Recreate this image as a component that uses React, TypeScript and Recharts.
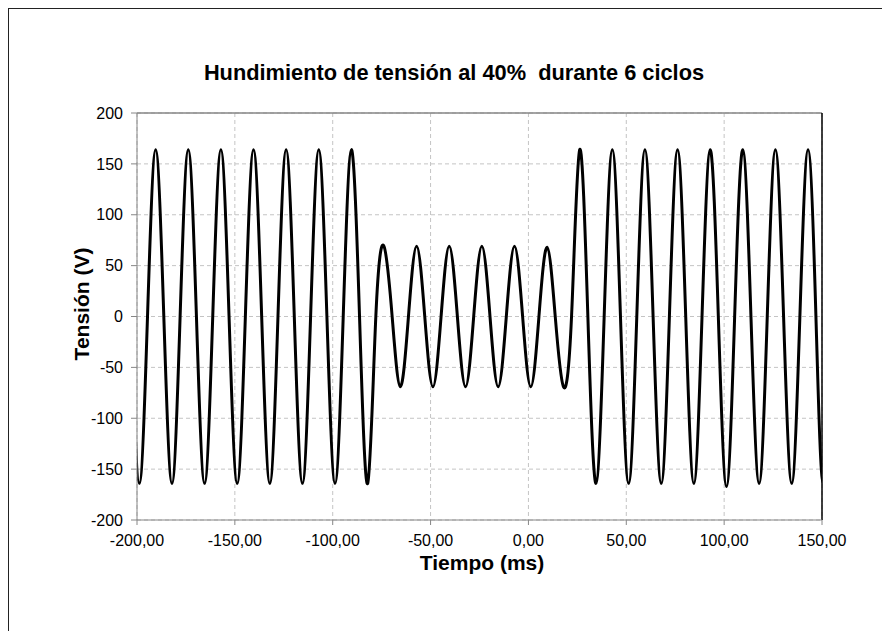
import { LineChart, Line, XAxis, YAxis, CartesianGrid, ReferenceLine } from 'recharts';

// Sample times (ms) at every quarter cycle of the 60 Hz wave
const timeMs = [
  -202.97,
  -198.8, -194.63, -190.47, -186.3, -182.13, -177.97, -173.8, -169.63,
  -165.47, -161.3, -157.13, -152.97, -148.8, -144.63, -140.47, -136.3,
  -132.13, -127.97, -123.8, -119.63, -115.47, -111.3, -107.13, -102.97,
  -98.8, -94.63, -90.47, -86.3, -82.13, -77.97, -73.8, -69.63,
  -65.47, -61.3, -57.13, -52.97, -48.8, -44.63, -40.47, -36.3,
  -32.13, -27.97, -23.8, -19.63, -15.47, -11.3, -7.13, -2.97,
  1.2, 5.37, 9.53, 13.7, 17.87, 22.03, 26.2, 30.37,
  34.53, 38.7, 42.87, 47.03, 51.2, 55.37, 59.53, 63.7,
  67.87, 72.03, 76.2, 80.37, 84.53, 88.7, 92.87, 97.03,
  101.2, 105.37, 109.53, 113.7, 117.87, 122.03, 126.2, 130.37,
  134.53, 138.7, 142.87, 146.9, 150.6, 154.77,
];

// Voltage read at those instants (zero crossings, troughs, peaks)
const voltage = [
  0,
  -164, 0, 164, 0, -164, 0, 164, 0,
  -164, 0, 164, 0, -164, 0, 164, 0,
  -164, 0, 164, 0, -164, 0, 164, 0,
  -164, 0, 164, 0, -164, 0, 69, 0,
  -69, 0, 69, 0, -69, 0, 69, 0,
  -69, 0, 69, 0, -69, 0, 69, 0,
  -69, 0, 68, 0, -69, 0, 164, 0,
  -164, 0, 164, 0, -164, 0, 164, 0,
  -164, 0, 164, 0, -164, 0, 164, 0,
  -167, 0, 164, 0, -164, 0, 164, 0,
  -164, 0, 164, 0, -164, 0,
];

const xTicks = [-200, -150, -100, -50, 0, 50, 100, 150];
const yTicks = [-200, -150, -100, -50, 0, 50, 100, 150, 200];

const data = timeMs.map((t, i) => ({ t, v: voltage[i] }));

const FONT = '"Liberation Sans", Arial, sans-serif';
const AXIS_GRAY = '#868686';

const fmtMs = (v: number) => v.toFixed(2).replace('.', ',');

export default function App() {
  return (
    <div
      style={{
        width: 882,
        height: 623,
        borderLeft: '1px solid #222',
        borderTop: '1px solid #222',
        boxSizing: 'border-box',
        position: 'relative',
        fontFamily: FONT,
        background: '#fff',
      }}
    >
      <LineChart
        width={881}
        height={622}
        data={data}
        margin={{ top: 104, right: 68, bottom: 71, left: 68 }}
      >
        <CartesianGrid stroke="#c4c4c4" strokeDasharray="4 3" />
        <XAxis
          dataKey="t"
          type="number"
          domain={[-200, 150]}
          ticks={xTicks}
          tickFormatter={fmtMs}
          height={40}
          tickSize={5}
          tickMargin={10}
          stroke={AXIS_GRAY}
          tick={{ fill: '#000', fontSize: 16, fontFamily: FONT }}
          allowDataOverflow
        />
        <YAxis
          type="number"
          domain={[-200, 200]}
          ticks={yTicks}
          width={60}
          tickSize={6}
          tickMargin={8}
          stroke={AXIS_GRAY}
          tick={{ fill: '#000', fontSize: 16, fontFamily: FONT }}
          allowDataOverflow
        />
        <ReferenceLine y={200} stroke={AXIS_GRAY} strokeWidth={1.5} />
        <ReferenceLine x={150} stroke="#000" strokeWidth={1.5} />
        <Line
          dataKey="v"
          type="natural"
          stroke="#000"
          strokeWidth={3}
          dot={false}
          isAnimationActive={false}
        />
      </LineChart>
      <svg
        width={881}
        height={622}
        style={{ position: 'absolute', left: 0, top: 0, pointerEvents: 'none' }}
      >
        <text
          x={445}
          y={71}
          textAnchor="middle"
          fontSize={21.8}
          fontWeight="bold"
          fontFamily={FONT}
          fill="#000"
          style={{ whiteSpace: 'pre' }}
        >
          {'Hundimiento de tensión al 40%  durante 6 ciclos'}
        </text>
        <text
          x={473}
          y={561}
          textAnchor="middle"
          fontSize={21}
          fontWeight="bold"
          fontFamily={FONT}
          fill="#000"
        >
          Tiempo (ms)
        </text>
        <text
          x={80}
          y={295}
          textAnchor="middle"
          fontSize={21}
          fontWeight="bold"
          fontFamily={FONT}
          fill="#000"
          transform="rotate(-90, 80, 295)"
        >
          Tensión (V)
        </text>
      </svg>
    </div>
  );
}
